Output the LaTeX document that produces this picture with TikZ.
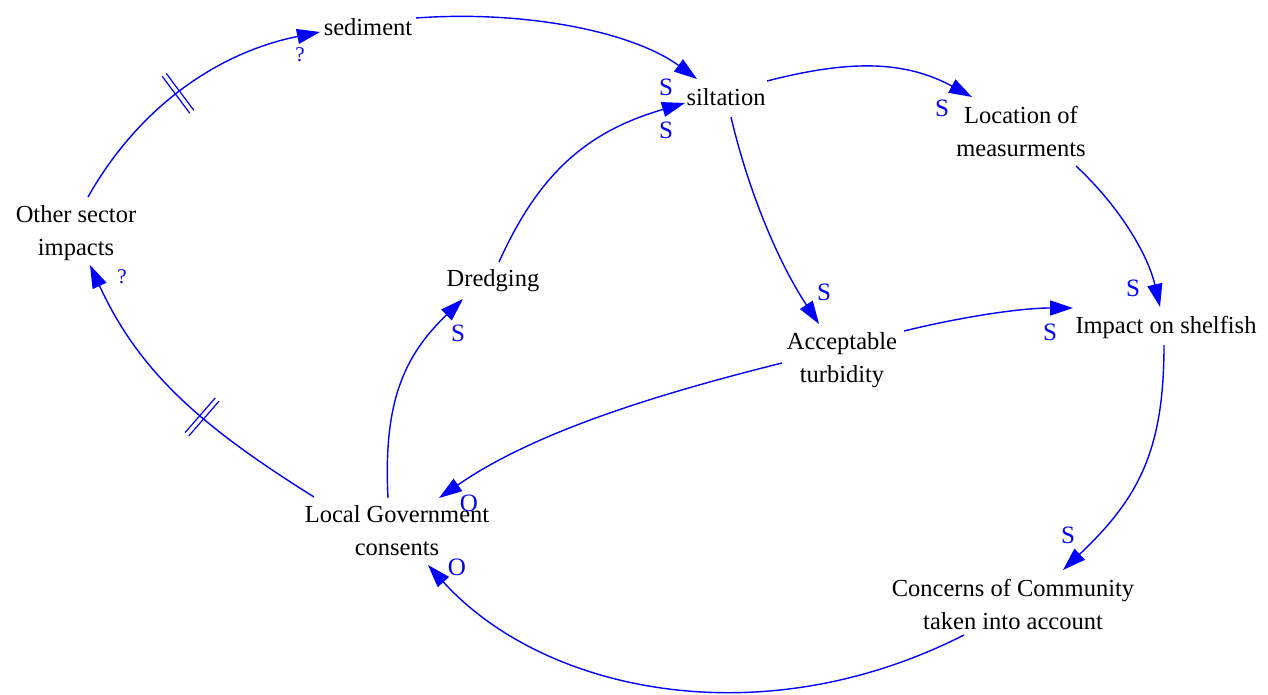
\documentclass[tikz,border=0pt]{standalone}
\usepackage{fontspec}
\setmainfont{Liberation Serif}
\usetikzlibrary{arrows.meta,decorations.markings}
\definecolor{linkblue}{RGB}{0,0,255}
\tikzset{
  var/.style={inner sep=0pt, outer sep=0pt, align=center, font=\fontsize{24.5}{33}\selectfont},
  link/.style={draw=linkblue, line width=1.4pt, -{Triangle[length=23pt,width=15pt]}},
  pol/.style={text=linkblue, font=\fontsize{25}{33}\selectfont, inner sep=0pt},
  qlab/.style={text=linkblue, font=\fontsize{21}{26}\selectfont, inner sep=0pt},
  delaymark/.style={postaction={decorate}, decoration={markings, mark=at position #1 with {\draw[-, line width=1.2pt, draw=linkblue] (-2.5pt,-23pt) -- (-2.5pt,23pt) (2.5pt,-23pt) -- (2.5pt,23pt);}}},
}
\begin{document}
\begin{tikzpicture}[x=1pt,y=-1pt]
\useasboundingbox (0,0) rectangle (1268,695);
% variables
\node[var] (sed)  at (368,27)   {sediment};
\node[var] (silt) at (726,97)   {siltation};
\node[var] (loc)  at (1021,131) {Location of\\measurments};
\node[var] (oth)  at (76,233)   {Other sector\\impacts};
\node[var] (dre)  at (493,281)  {Dredging};
\node[var] (acc)  at (842,360)  {Acceptable\\turbidity};
\node[var] (imp)  at (1166,327) {Impact on shelfish};
\node[var] (lg)   at (397,531)  {Local Government\\consents};
\node[var] (con)  at (1013,604) {Concerns of Community\\taken into account};
% links
\draw[link, delaymark=0.47] ([shift={(12,-36)}]oth.center) .. controls (140,105) and (220,52) .. ([shift={(-48,5)}]sed.center);
\draw[link] ([shift={(48,-9)}]sed.center) .. controls (526,10) and (633,32) .. ([shift={(-29,-18)}]silt.center);
\draw[link] ([shift={(6,-19)}]dre.center) .. controls (540,171) and (589,131) .. ([shift={(-41,6)}]silt.center);
\draw[link] ([shift={(41,-16)}]silt.center) .. controls (845,61) and (902,59) .. ([shift={(-49,-34)}]loc.center);
\draw[link] ([shift={(5,20)}]silt.center) .. controls (748,190) and (778,262) .. ([shift={(-23,-36)}]acc.center);
\draw[link] ([shift={(55,35)}]loc.center) .. controls (1120,207) and (1148,255) .. ([shift={(-6,-20)}]imp.center);
\draw[link] ([shift={(62,-29)}]acc.center) .. controls (957,318) and (1018,308) .. ([shift={(-93,-19)}]imp.center);
\draw[link] ([shift={(-2,18)}]imp.center) .. controls (1164,450) and (1139,498) .. ([shift={(50,-34)}]con.center);
\draw[link] ([shift={(-49,31)}]con.center) .. controls (759,739) and (542,691) .. ([shift={(31,34)}]lg.center);
\draw[link] ([shift={(-60,3)}]acc.center) .. controls (666,392) and (537,430) .. ([shift={(42,-33)}]lg.center);
\draw[link] ([shift={(-9,-33)}]lg.center) .. controls (383,400) and (405,355) .. ([shift={(-30,18)}]dre.center);
\draw[link, delaymark=0.42] ([shift={(-83,-34)}]lg.center) .. controls (204,428) and (140,374) .. ([shift={(14,32)}]oth.center);
% polarity labels
\node[qlab] (q1) at (300,55)  {?};
\node[qlab] (q2) at (122,277) {?};
\node[pol] (s1) at (666,87)   {S};
\node[pol] (s2) at (666,130)  {S};
\node[pol] (s3) at (942,108)  {S};
\node[pol] (s4) at (824,292)  {S};
\node[pol] (s5) at (1133,288) {S};
\node[pol] (s6) at (1050,332) {S};
\node[pol] (s7) at (1068,535) {S};
\node[pol] (s8) at (458,333)  {S};
\node[pol] (o1) at (469,503)  {O};
\node[pol] (o2) at (457,567)  {O};
\end{tikzpicture}
\end{document}
